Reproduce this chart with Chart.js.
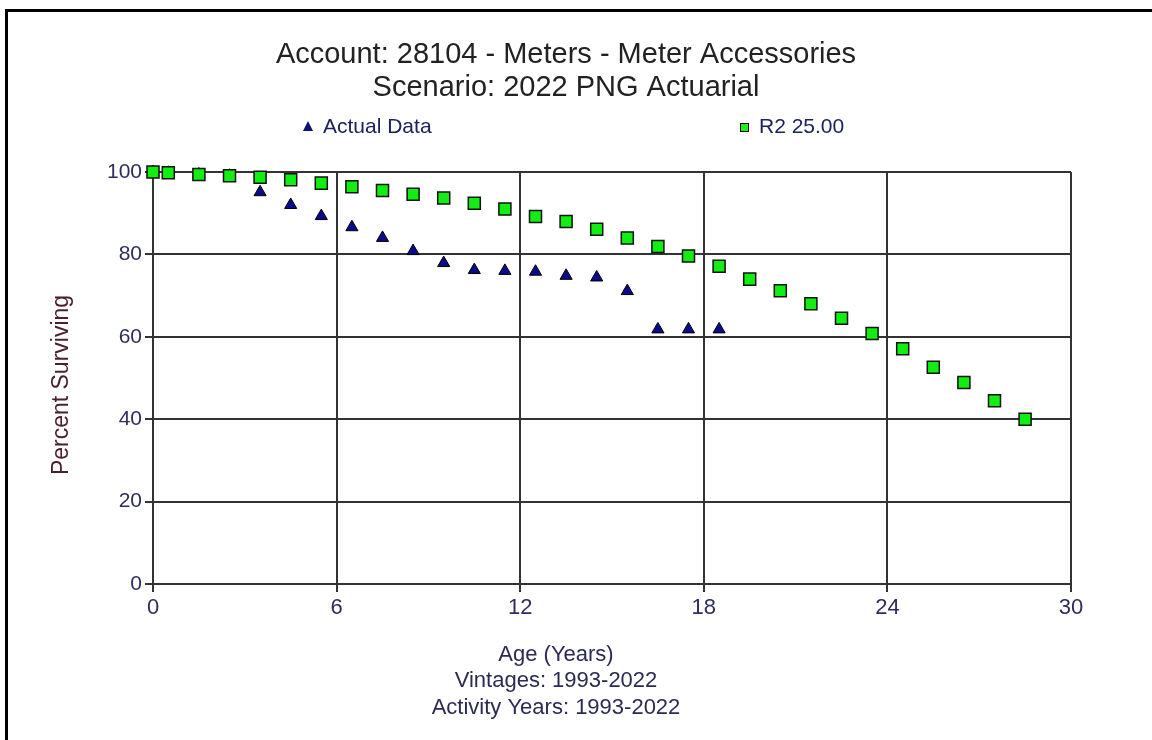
<!DOCTYPE html>
<html>
<head>
<meta charset="utf-8">
<script src="https://cdn.jsdelivr.net/npm/chart.js@4.4.0/dist/chart.umd.min.js"></script>
<style>
  html, body { margin: 0; padding: 0; background: #fff; }
  #wrap { position: relative; width: 1152px; height: 740px; }
</style>
</head>
<body>
<div id="wrap"><canvas id="myChart" width="1152" height="740"></canvas></div>
<script>
var titleLines = ["Account: 28104 - Meters - Meter Accessories", "Scenario: 2022 PNG Actuarial"];
var xLabelLines = ["Age (Years)", "Vintages: 1993-2022", "Activity Years: 1993-2022"];
var yLabel = "Percent Surviving";
var legendNames = ["Actual Data", "R2 25.00"];

// actual observed survivors
var actualAges = [0, 0.5, 1.5, 2.5, 3.5, 4.5, 5.5, 6.5, 7.5, 8.5, 9.5, 10.5, 11.5, 12.5, 13.5, 14.5, 15.5, 16.5, 17.5, 18.5];
var actualValues = [100, 99.8, 99.4, 99.1, 95.1, 92.0, 89.3, 86.6, 84.0, 80.8, 77.9, 76.2, 76.0, 75.8, 74.8, 74.4, 71.1, 61.8, 61.8, 61.8];

// fitted R2 curve
var r2Ages = [0, 0.5, 1.5, 2.5, 3.5, 4.5, 5.5, 6.5, 7.5, 8.5, 9.5, 10.5, 11.5, 12.5, 13.5, 14.5, 15.5, 16.5, 17.5, 18.5, 19.5, 20.5, 21.5, 22.5, 23.5, 24.5, 25.5, 26.5, 27.5, 28.5];
var r2Values = [100, 99.8, 99.4, 99.1, 98.7, 98.1, 97.3, 96.4, 95.5, 94.6, 93.7, 92.4, 91.0, 89.2, 88.0, 86.1, 84.0, 81.9, 79.6, 77.1, 74.0, 71.2, 68.0, 64.5, 60.8, 57.1, 52.6, 48.9, 44.5, 40.0];

var FONT = "'Liberation Sans', Arial, sans-serif";

function pairs(xs, ys) {
  return xs.map(function (x, i) { return { x: x, y: ys[i] }; });
}

// titles, legend, axis captions and the frame
var decor = {
  id: "decor",
  afterDraw: function (chart) {
    var ctx = chart.ctx;
    ctx.save();
    ctx.fillStyle = "#000";
    ctx.fillRect(5, 9, 3, 740);
    ctx.fillRect(5, 9, 1147, 3);

    ctx.textAlign = "center";
    ctx.textBaseline = "middle";
    ctx.fillStyle = "#222";
    ctx.font = "29px " + FONT;
    ctx.fillText(titleLines[0], 566, 55);
    ctx.fillText(titleLines[1], 566, 88);

    // legend
    ctx.textAlign = "left";
    ctx.font = "21px " + FONT;
    ctx.fillStyle = "#10107a";
    ctx.strokeStyle = "#000";
    ctx.lineWidth = 1;
    ctx.beginPath();
    ctx.moveTo(308, 121);
    ctx.lineTo(313, 131);
    ctx.lineTo(303, 131);
    ctx.closePath();
    ctx.fill();
    ctx.fillStyle = "#1c2260";
    ctx.fillText(legendNames[0], 323, 127);
    ctx.fillStyle = "#22ee22";
    ctx.fillRect(740, 123, 9, 9);
    ctx.strokeRect(740.5, 123.5, 8, 8);
    ctx.fillStyle = "#1c2260";
    ctx.fillText(legendNames[1], 759, 127);

    // x caption
    ctx.textAlign = "center";
    ctx.fillStyle = "#2a2a55";
    ctx.font = "22px " + FONT;
    ctx.fillText(xLabelLines[0], 556, 655);
    ctx.fillText(xLabelLines[1], 556, 681);
    ctx.fillText(xLabelLines[2], 556, 708);

    // y caption
    ctx.translate(62, 385);
    ctx.rotate(-Math.PI / 2);
    ctx.fillStyle = "#4a2030";
    ctx.font = "23px " + FONT;
    ctx.fillText(yLabel, 0, 0);
    ctx.restore();
  }
};

var ctx = document.getElementById("myChart").getContext("2d");
var chart = new Chart(ctx, {
  type: "scatter",
  data: {
    datasets: [
      {
        label: legendNames[0],
        data: pairs(actualAges, actualValues),
        pointStyle: "triangle",
        pointRadius: 7,
        backgroundColor: "#0a0a8a",
        borderColor: "#000",
        borderWidth: 1,
        clip: false,
        order: 2
      },
      {
        label: legendNames[1],
        data: pairs(r2Ages, r2Values),
        pointStyle: "rect",
        pointRadius: 8.5,
        backgroundColor: "#11ee11",
        borderColor: "#111",
        borderWidth: 1.5,
        clip: false,
        order: 1
      }
    ]
  },
  options: {
    responsive: false,
    animation: false,
    layout: { padding: { top: 172, right: 81, bottom: 116, left: 0 } },
    plugins: {
      legend: { display: false },
      title: { display: false },
      tooltip: { enabled: false }
    },
    scales: {
      x: {
        type: "linear",
        min: 0,
        max: 30,
        afterFit: function (s) { s.height = 40; },
        ticks: { stepSize: 6, color: "#2e2e5e", font: { family: FONT, size: 22 }, padding: 3 },
        grid: { color: "#333", lineWidth: 2, tickLength: 8, tickColor: "#333" },
        border: { color: "#333", width: 2 }
      },
      y: {
        type: "linear",
        min: 0,
        max: 100,
        afterFit: function (s) { s.width = 153; },
        ticks: { stepSize: 20, color: "#2e2e5e", font: { family: FONT, size: 21 }, padding: 3 },
        grid: { color: "#333", lineWidth: 2, tickLength: 8, tickColor: "#333" },
        border: { color: "#333", width: 2 }
      }
    }
  },
  plugins: [decor]
});
</script>
</body>
</html>
